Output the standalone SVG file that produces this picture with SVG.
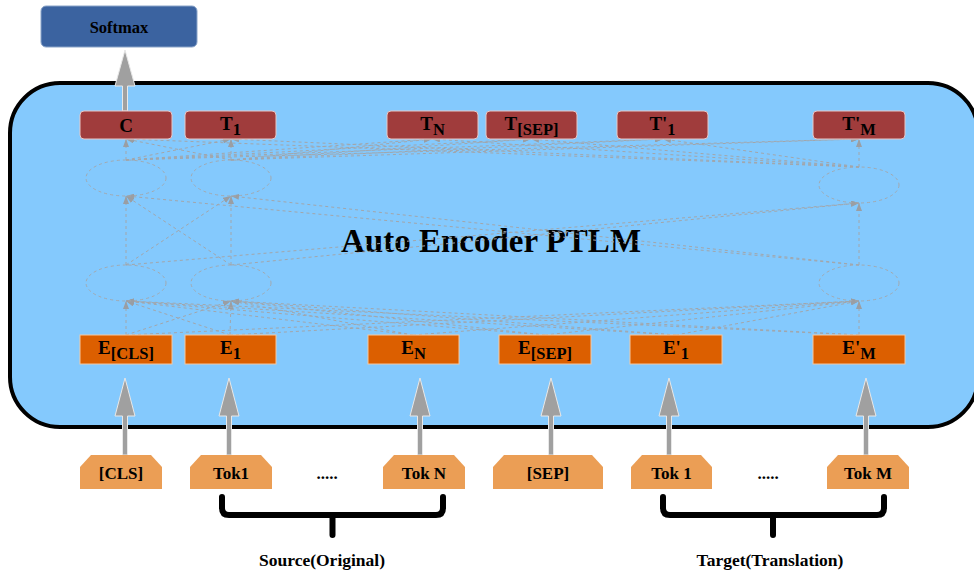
<svg xmlns="http://www.w3.org/2000/svg" width="974" height="572" viewBox="0 0 974 572">
<defs>
<style>
.lbl{font-family:"Liberation Serif","Times New Roman",serif;font-weight:bold;fill:#000;text-anchor:middle}
.red{fill:#a03c3c;stroke:#e6c8c8;stroke-width:1}
.org{fill:#dc5f00;stroke:#f3c9a3;stroke-width:1}
.tok{fill:#eb9e55}
.ell{fill:none;stroke:#a2a9b0;stroke-width:1;stroke-dasharray:3 3}
.dl{fill:none;stroke:#a2a6ab;stroke-width:1;stroke-dasharray:3 3;marker-end:url(#ah)}
.big{fill:#a0a0a0;stroke:#e8e8e8;stroke-width:1}
.brace{fill:none;stroke:#000;stroke-width:6;stroke-linecap:round;stroke-linejoin:round}
</style>
<marker id="ah" markerWidth="8" markerHeight="6" refX="8" refY="3" orient="auto" markerUnits="userSpaceOnUse">
<path d="M0,0 L8,3 L0,6 Z" fill="#9a9ea3"/>
</marker>
</defs>
<rect width="974" height="572" fill="#fff"/>
<g id="container">
<rect x="10" y="83" width="968" height="344" rx="50" fill="#84c9fd" stroke="#000" stroke-width="4"/>
<text class="lbl" x="491" y="252" font-size="33">Auto Encoder PTLM</text>
</g>
<g id="connectors">
<path class="dl" d="M126,335 L126,301"/><path class="dl" d="M126,335 L231,301"/><path class="dl" d="M126,335 L859,301"/>
<path class="dl" d="M230,335 L126,301"/><path class="dl" d="M230,335 L231,301"/><path class="dl" d="M230,335 L859,301"/>
<path class="dl" d="M413,335 L126,301"/><path class="dl" d="M413,335 L231,301"/><path class="dl" d="M413,335 L859,301"/>
<path class="dl" d="M545,335 L126,301"/><path class="dl" d="M545,335 L231,301"/><path class="dl" d="M545,335 L859,301"/>
<path class="dl" d="M676,335 L126,301"/><path class="dl" d="M676,335 L231,301"/><path class="dl" d="M676,335 L859,301"/>
<path class="dl" d="M859,335 L126,301"/><path class="dl" d="M859,335 L231,301"/><path class="dl" d="M859,335 L859,301"/>
<path class="dl" d="M126,265 L126,196"/><path class="dl" d="M126,265 L231,196"/><path class="dl" d="M126,265 L859,203"/>
<path class="dl" d="M231,265 L126,196"/><path class="dl" d="M231,265 L231,196"/><path class="dl" d="M231,265 L859,203"/>
<path class="dl" d="M859,265 L126,196"/><path class="dl" d="M859,265 L231,196"/><path class="dl" d="M859,265 L859,203"/>
<path class="dl" d="M126,160 L126,139"/><path class="dl" d="M126,160 L231,139"/><path class="dl" d="M126,160 L432,139"/><path class="dl" d="M126,160 L531,139"/><path class="dl" d="M126,160 L663,139"/><path class="dl" d="M126,160 L859,139"/>
<path class="dl" d="M231,160 L126,139"/><path class="dl" d="M231,160 L231,139"/><path class="dl" d="M231,160 L432,139"/><path class="dl" d="M231,160 L531,139"/><path class="dl" d="M231,160 L663,139"/><path class="dl" d="M231,160 L859,139"/>
<path class="dl" d="M859,167 L126,139"/><path class="dl" d="M859,167 L231,139"/><path class="dl" d="M859,167 L432,139"/><path class="dl" d="M859,167 L531,139"/><path class="dl" d="M859,167 L663,139"/><path class="dl" d="M859,167 L859,139"/>
<path class="big" d="M122.5,455 V416 H115 L125,378 L135,416 H127.5 V455 Z"/>
<path class="big" d="M226.5,455 V416 H219 L229,378 L239,416 H231.5 V455 Z"/>
<path class="big" d="M417.5,455 V416 H410 L420,378 L430,416 H422.5 V455 Z"/>
<path class="big" d="M548.5,455 V416 H541 L551,378 L561,416 H553.5 V455 Z"/>
<path class="big" d="M666.5,455 V416 H659 L669,378 L679,416 H671.5 V455 Z"/>
<path class="big" d="M863.5,455 V416 H856 L866,378 L876,416 H868.5 V455 Z"/>
<path class="big" d="M122.5,111 V86 H115 L125,50 L135,86 H127.5 V111 Z"/>
</g>
<g id="hidden-layers">
<ellipse class="ell" cx="126" cy="178" rx="40" ry="18"/>
<ellipse class="ell" cx="231" cy="178" rx="40" ry="18"/>
<ellipse class="ell" cx="859" cy="185" rx="40" ry="18"/>
<ellipse class="ell" cx="126" cy="283" rx="40" ry="18"/>
<ellipse class="ell" cx="231" cy="283" rx="40" ry="18"/>
<ellipse class="ell" cx="859" cy="283" rx="40" ry="18"/>
</g>
<g id="softmax">
<rect x="41" y="6" width="156" height="41" rx="5" fill="#3b63a0" stroke="#8aa4c8" stroke-width="1"/>
<text class="lbl" x="119" y="33" font-size="16.5">Softmax</text>
</g>
<g id="t-c"><rect class="red" x="80" y="111" width="92" height="28" rx="4"/><text class="lbl" x="126" y="132" font-size="19">C</text></g>
<g id="t-1"><rect class="red" x="185" y="111" width="91" height="28" rx="4"/><text class="lbl" x="230.5" y="130" font-size="19">T<tspan font-size="16.5" dy="5">1</tspan></text></g>
<g id="t-n"><rect class="red" x="387" y="111" width="91" height="28" rx="4"/><text class="lbl" x="432.5" y="130" font-size="19">T<tspan font-size="16.5" dy="5">N</tspan></text></g>
<g id="t-sep"><rect class="red" x="486" y="111" width="91" height="28" rx="4"/><text class="lbl" x="531.5" y="130" font-size="19">T<tspan font-size="16.5" dy="5">[SEP]</tspan></text></g>
<g id="t-p1"><rect class="red" x="617" y="111" width="91" height="28" rx="4"/><text class="lbl" x="662.5" y="130" font-size="19">T'<tspan font-size="16.5" dy="5">1</tspan></text></g>
<g id="t-pm"><rect class="red" x="813" y="111" width="92" height="28" rx="4"/><text class="lbl" x="859" y="130" font-size="19">T'<tspan font-size="16.5" dy="5">M</tspan></text></g>
<g id="e-cls"><rect class="org" x="80" y="335" width="92" height="29"/><text class="lbl" x="126" y="354" font-size="19">E<tspan font-size="16.5" dy="5">[CLS]</tspan></text></g>
<g id="e-1"><rect class="org" x="185" y="335" width="91" height="29"/><text class="lbl" x="230.5" y="354" font-size="19">E<tspan font-size="16.5" dy="5">1</tspan></text></g>
<g id="e-n"><rect class="org" x="368" y="335" width="91" height="29"/><text class="lbl" x="413.5" y="354" font-size="19">E<tspan font-size="16.5" dy="5">N</tspan></text></g>
<g id="e-sep"><rect class="org" x="499" y="335" width="92" height="29"/><text class="lbl" x="545" y="354" font-size="19">E<tspan font-size="16.5" dy="5">[SEP]</tspan></text></g>
<g id="e-p1"><rect class="org" x="630" y="335" width="92" height="29"/><text class="lbl" x="676" y="354" font-size="19">E'<tspan font-size="16.5" dy="5">1</tspan></text></g>
<g id="e-pm"><rect class="org" x="813" y="335" width="92" height="29"/><text class="lbl" x="859" y="354" font-size="19">E'<tspan font-size="16.5" dy="5">M</tspan></text></g>
<g id="tok-cls"><path class="tok" d="M80,489 V467 L91,455 H151 L162,467 V489 Z"/><text class="lbl" x="121" y="479" font-size="17">[CLS]</text></g>
<g id="tok-1"><path class="tok" d="M190,489 V467 L201,455 H261 L272,467 V489 Z"/><text class="lbl" x="231" y="479" font-size="17">Tok1</text></g>
<g id="dots-1"><text class="lbl" x="327" y="479" font-size="17">.....</text></g>
<g id="tok-n"><path class="tok" d="M383,489 V467 L394,455 H454 L465,467 V489 Z"/><text class="lbl" x="424" y="479" font-size="17">Tok N</text></g>
<g id="tok-sep"><path class="tok" d="M493,489 V467 L504,455 H592 L603,467 V489 Z"/><text class="lbl" x="548" y="479" font-size="17">[SEP]</text></g>
<g id="tok-p1"><path class="tok" d="M631,489 V467 L642,455 H701 L712,467 V489 Z"/><text class="lbl" x="671.5" y="479" font-size="17">Tok 1</text></g>
<g id="dots-2"><text class="lbl" x="768" y="479" font-size="17">.....</text></g>
<g id="tok-pm"><path class="tok" d="M827,489 V467 L838,455 H898 L909,467 V489 Z"/><text class="lbl" x="868" y="479" font-size="17">Tok M</text></g>
<g id="brace-source">
<path class="brace" d="M222,497 V508 Q222,515 229,515 H436 Q443,515 443,508 V497 M332.5,515 V535"/>
<text class="lbl" x="322" y="566" font-size="17.5">Source(Original)</text>
</g>
<g id="brace-target">
<path class="brace" d="M663,497 V508 Q663,515 670,515 H877 Q884,515 884,508 V497 M773,515 V535"/>
<text class="lbl" x="770" y="566" font-size="17.5">Target(Translation)</text>
</g>
</svg>
